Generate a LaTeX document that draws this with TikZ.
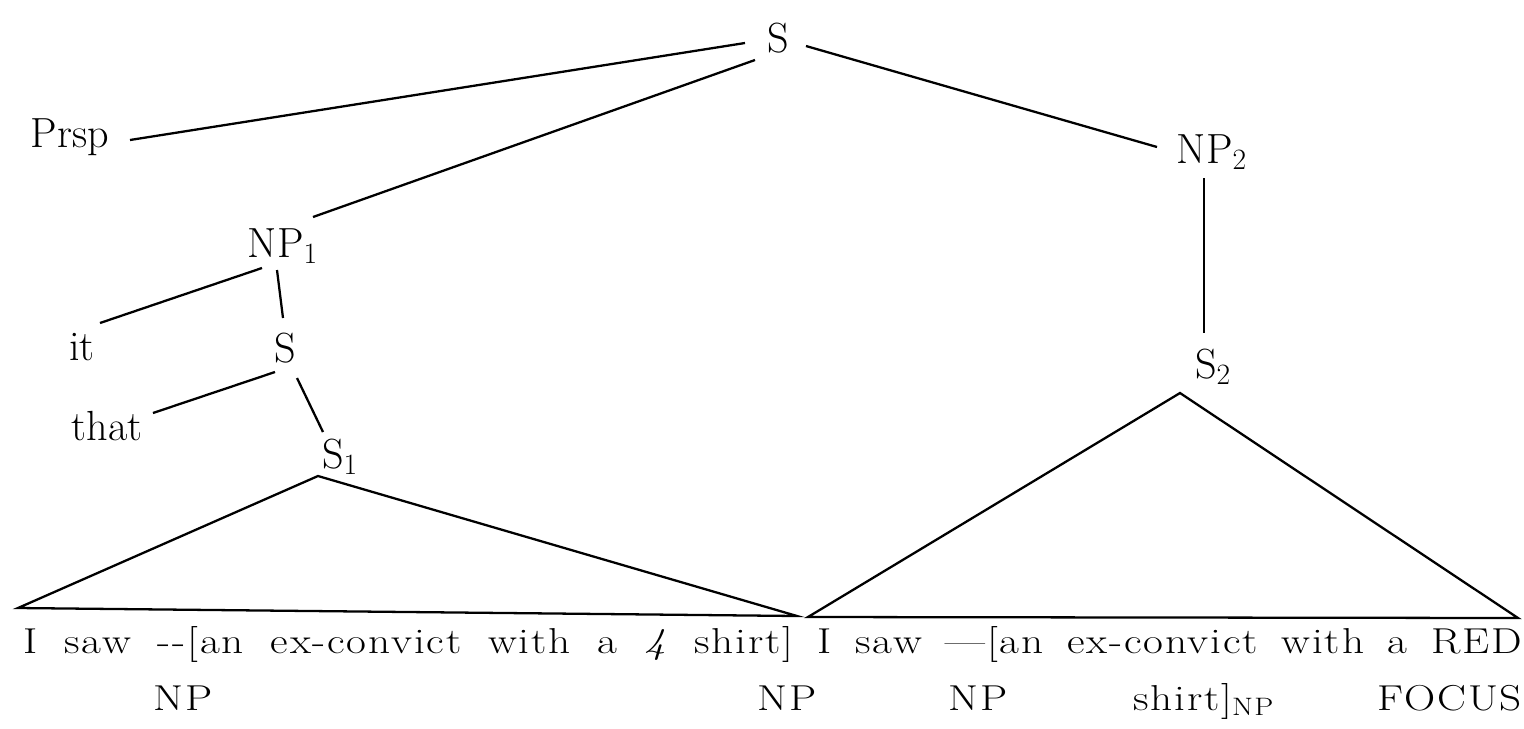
\documentclass[tikz,border=0pt]{standalone}
\usepackage{fontspec}
\newfontfamily\widefont{Latin Modern Roman}[FakeStretch=1.2,LetterSpace=5]
\usetikzlibrary{calc}
\begin{document}
\begin{tikzpicture}[x=0.02cm,y=-0.02cm,
  lbl/.style={inner sep=0pt,anchor=base,font=\fontsize{24}{28}\selectfont},
  txt/.style={inner sep=0pt,anchor=base,font=\widefont\fontsize{20.5}{24}\selectfont},
  edge/.style={line width=1.3pt}]
\useasboundingbox (0,0) rectangle (1524,728);
% nodes (placed by baseline)
\node[lbl] (S) at (778,52) {S};
\node[lbl] (Prsp) at (70,147) {Prsp};
\node[lbl] (NP2) at (1212,163) {NP\textsubscript{2}};
\node[lbl] (NP1) at (283,257) {NP\textsubscript{1}};
\node[lbl] (it) at (82,360) {it};
\node[lbl] (Sm) at (285,362) {S};
\node[lbl] (S2) at (1213,378) {S\textsubscript{2}};
\node[lbl] (that) at (107,440) {that};
\node[lbl] (S1) at (340,468) {S\textsubscript{1}};
% edges
\draw[edge] ($(S.base)+(-33,-9)$) -- ($(Prsp.base)+(60,-7)$);
\draw[edge] ($(S.base)+(-23,8)$) -- ($(NP1.base)+(30,-40)$);
\draw[edge] ($(S.base)+(28,-6)$) -- ($(NP2.base)+(-55,-16)$);
\draw[edge] ($(NP2.base)+(-8,15)$) -- ($(S2.base)+(-9,-45)$);
\draw[edge] ($(NP1.base)+(-21,11)$) -- ($(it.base)+(18,-37)$);
\draw[edge] ($(NP1.base)+(-6,13)$) -- ($(Sm.base)+(-2,-44)$);
\draw[edge] ($(Sm.base)+(-10,10)$) -- ($(that.base)+(46,-27)$);
\draw[edge] ($(Sm.base)+(12,16)$) -- ($(S1.base)+(-17,-36)$);
% triangles
\coordinate (t1a) at ($(S1.base)+(-22,8)$);
\coordinate (t1l) at (18,608);
\coordinate (t1r) at (797,616);
\coordinate (t2a) at ($(S2.base)+(-33,15)$);
\coordinate (t2l) at (808,617);
\coordinate (t2r) at (1518,618);
\draw[edge,line join=miter] (t1a) -- (t1l) -- (t1r) -- cycle;
\draw[edge,line join=miter] (t2a) -- (t2l) -- (t2r) -- cycle;
% terminal strings
\node[txt,anchor=base west] (str1) at (23,653) {\makebox[15.4cm][s]{I saw -{}-[an ex-convict with a \textit{4} shirt]}};
\node[txt,anchor=base west] (str2) at (817,653) {\makebox[14.1cm][s]{I saw —[an ex-convict with a RED}};
\node[txt] (npa) at (183,710) {NP};
\node[txt] (npb) at (787,710) {NP};
\node[txt] (npc) at (978,710) {NP};
\node[txt,anchor=base west] (shnp) at (1133,710) {shirt]\textsubscript{NP}};
\node[txt] (focus) at (1450,710) {FOCUS};
\end{tikzpicture}
\end{document}
